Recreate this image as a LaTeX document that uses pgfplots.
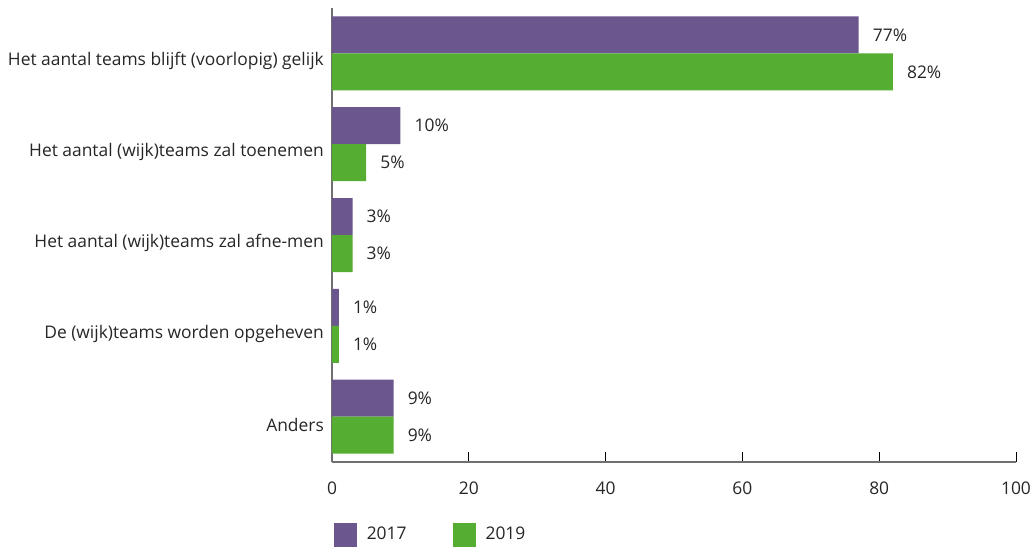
\documentclass[border=0pt]{standalone}
\usepackage{pgfplots}
\pgfplotsset{compat=1.18}
\usepackage{fontspec}
\setmainfont{Open Sans}
\definecolor{cpurple}{HTML}{6B568E}
\definecolor{cgreen}{HTML}{55AE31}
\definecolor{axgray}{HTML}{707070}
\definecolor{txt}{HTML}{262626}
\newcommand{\fs}{\fontsize{8.7pt}{10.5pt}\selectfont}
\begin{document}
\fs
\begin{tikzpicture}
\path[use as bounding box] (0,0) rectangle (516.5pt,273.5pt);
\begin{axis}[
  at={(166pt,42.5pt)}, anchor=south west,
  scale only axis, width=342pt, height=227pt,
  xbar, bar width=18.5pt,
  xmin=0, xmax=100, ymin=-0.5, ymax=4.5,
  xtick={0,20,40,60,80,100},
  ytick={0,1,2,3,4},
  yticklabels={Anders, De (wijk)teams worden opgeheven, Het aantal (wijk)teams zal afne-men, Het aantal (wijk)teams zal toenemen, Het aantal teams blijft (voorlopig) gelijk},
  axis x line*=bottom, axis y line*=left,
  x axis line style={-, axgray, line width=0.75pt},
  y axis line style={-, axgray, line width=0.75pt},
  ytick style={draw=none},
  xtick style={black, line width=0.5pt},
  tick align=inside, major tick length=5pt,
  tick label style={font=\fs, text=txt},
  /pgf/number format/assume math mode=true,
  xticklabel style={yshift=-7pt},
  yticklabel style={xshift=-1pt, yshift=-4pt},
  nodes near coords={\pgfmathprintnumber{\pgfplotspointmeta}\%},
  every node near coord/.append style={font=\fs, text=txt, anchor=west, xshift=4pt},
  legend style={at={(0.002,-0.133)}, anchor=north west, draw=none, legend columns=2, font=\fs, text=txt, /tikz/every even column/.append style={column sep=18pt}, inner sep=0pt, nodes={inner xsep=5pt}},
  legend cell align=left,
  legend image code/.code={\fill[#1] (0pt,-6pt) rectangle (11.5pt,6pt);},
]
\addplot[fill=cpurple, draw=none, bar shift=9.25pt] coordinates {(77,4) (10,3) (3,2) (1,1) (9,0)};
\addplot[fill=cgreen, draw=none, bar shift=-9.25pt] coordinates {(82,4) (5,3) (3,2) (1,1) (9,0)};
\legend{2017,2019}
\end{axis}
\end{tikzpicture}
\end{document}
